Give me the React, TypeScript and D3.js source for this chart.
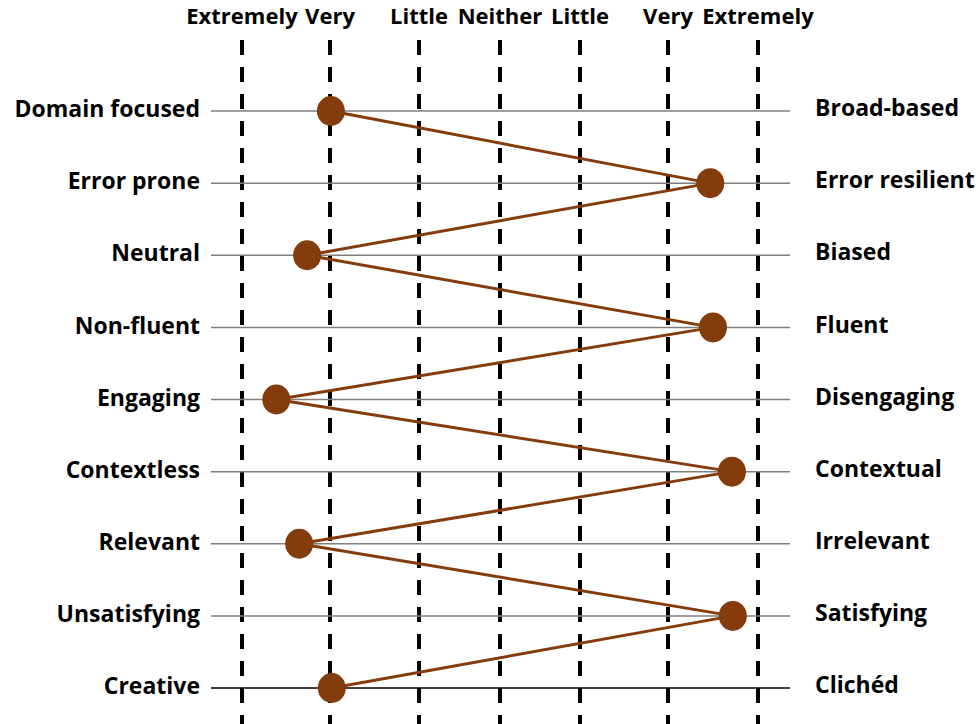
import * as React from "react";
import { scaleLinear, scalePoint, line } from "d3";

const scaleLabels = ["Extremely", "Very", "Little", "Neither", "Little", "Very", "Extremely"];
const leftLabels = [
  "Domain focused",
  "Error prone",
  "Neutral",
  "Non-fluent",
  "Engaging",
  "Contextless",
  "Relevant",
  "Unsatisfying",
  "Creative",
];
const rightLabels = [
  "Broad-based",
  "Error resilient",
  "Biased",
  "Fluent",
  "Disengaging",
  "Contextual",
  "Irrelevant",
  "Satisfying",
  "Clichéd",
];
// 1 = left extreme, 7 = right extreme
const ratings = [2.01, 6.47, 1.74, 6.5, 1.39, 6.71, 1.65, 6.72, 2.02];

const W = 979;
const H = 724;
const BROWN = "#843c0c";
const FONT = "'Open Sans', 'Noto Sans', sans-serif";

export default function App() {
  // the scale stops are not evenly spaced in the original
  const x = scaleLinear()
    .domain([1, 2, 3, 4, 5, 6, 7])
    .range([242, 330, 419, 500, 580, 668, 758]);
  const y = scalePoint<number>()
    .domain(leftLabels.map((_, i) => i))
    .range([111, 688]);

  const path = line<number>()
    .x((d) => x(d))
    .y((_, i) => y(i) as number)(ratings);

  return (
    <svg
      width={W}
      height={H}
      style={{ position: "absolute", left: 0, top: 0, background: "#fff" }}
      fontFamily={FONT}
      fontWeight="bold"
    >
      {scaleLabels.map((lab, i) => (
        <g key={`v-${i}`}>
          <line
            x1={x(i + 1)}
            x2={x(i + 1)}
            y1={40}
            y2={H}
            stroke="#000"
            strokeWidth={4}
            strokeDasharray="15 12"
          />
          <text
            x={x(i + 1)}
            y={18}
            textAnchor="middle"
            dominantBaseline="middle"
            fontSize={22}
            fill="#000"
          >
            {lab}
          </text>
        </g>
      ))}

      {leftLabels.map((lab, i) => (
        <g key={`h-${i}`}>
          <line
            x1={211}
            x2={790}
            y1={y(i)}
            y2={y(i)}
            stroke={i === leftLabels.length - 1 ? "#000" : "#7f7f7f"}
            strokeWidth={1.5}
          />
          <text
            x={200}
            y={y(i)}
            textAnchor="end"
            dominantBaseline="middle"
            fontSize={23}
            fill="#000"
          >
            {lab}
          </text>
          <text
            x={815}
            y={(y(i) as number) - 1}
            textAnchor="start"
            dominantBaseline="middle"
            fontSize={23}
            fill="#000"
          >
            {rightLabels[i]}
          </text>
        </g>
      ))}

      <path d={path ?? ""} fill="none" stroke={BROWN} strokeWidth={3} />
      {ratings.map((v, i) => (
        <ellipse
          key={`p-${i}`}
          cx={x(v)}
          cy={y(i)}
          rx={14}
          ry={15}
          fill={BROWN}
        />
      ))}
    </svg>
  );
}
